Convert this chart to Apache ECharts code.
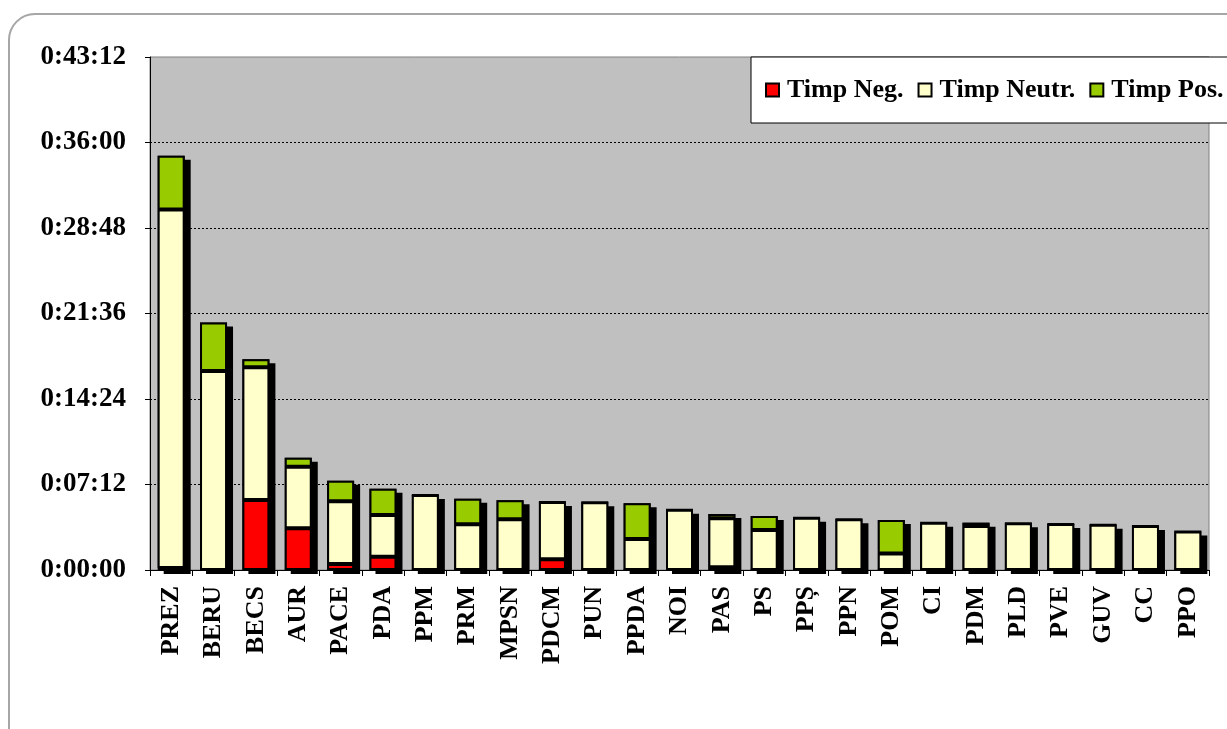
<!DOCTYPE html>
<html>
<head>
<meta charset="utf-8">
<script src="https://cdn.jsdelivr.net/npm/echarts@6/dist/echarts.min.js"></script>
<style>
html,body{margin:0;padding:0;background:#fff;}
#chart{width:1227px;height:729px;}
</style>
</head>
<body>
<div id="chart"></div>
<script>
// Categories (parties / speakers)
const categories = ['PREZ','BERU','BECS','AUR','PACE','PDA','PPM','PRM','MPSN','PDCM','PUN','PPDA','NOI','PAS','PS','PPȘ','PPN','POM','CI','PDM','PLD','PVE','GUV','CC','PPO'];
// Values in seconds
const timpNeg   = [10, 0, 354, 211, 30, 67, 0, 0, 0, 54, 0, 0, 0, 14, 0, 0, 0, 0, 0, 0, 0, 0, 0, 0, 0];
const timpNeutr = [1812, 1005, 670, 311, 317, 211, 379, 231, 256, 290, 342, 157, 305, 247, 202, 264, 256, 84, 239, 222, 236, 232, 229, 222, 194];
const timpPos   = [271, 245, 41, 45, 104, 133, 0, 129, 96, 0, 0, 180, 0, 22, 71, 0, 0, 169, 0, 17, 0, 0, 0, 0, 0];
// Axis ticks (seconds): 0:00:00 .. 0:43:12 every 0:07:12
const yMin = 0, yMax = 2592, yStep = 432;

const totals = categories.map((c, i) => timpNeg[i] + timpNeutr[i] + timpPos[i]);

function fmt(v) {
  const h = Math.floor(v / 3600);
  const m = Math.floor((v % 3600) / 60);
  const s = Math.round(v % 60);
  return h + ':' + String(m).padStart(2, '0') + ':' + String(s).padStart(2, '0');
}

const FONT = "'Liberation Serif', 'Times New Roman', serif";
const border = { borderColor: '#000', borderWidth: 2 };

const chart = echarts.init(document.getElementById('chart'));
chart.setOption({
  animation: false,
  backgroundColor: '#fff',
  graphic: [{
    type: 'rect',
    z: -10,
    shape: { x: 9, y: 14, width: 1260, height: 760, r: 26 },
    style: { fill: '#fff', stroke: '#a6a6a6', lineWidth: 2 }
  }],
  grid: {
    left: 150, right: 18, top: 57, bottom: 159,
    show: true, backgroundColor: '#c0c0c0', borderColor: '#808080', borderWidth: 1
  },
  legend: {
    data: ['Timp Neg.', 'Timp Neutr.', 'Timp Pos.'],
    left: 751, top: 57, width: 560,
    backgroundColor: '#fff', borderColor: '#000', borderWidth: 1,
    padding: [20, 30, 20, 14],
    itemGap: 14, itemWidth: 13, itemHeight: 13,
    icon: 'rect',
    itemStyle: { borderColor: '#000', borderWidth: 2 },
    textStyle: { fontFamily: FONT, fontWeight: 'bold', fontSize: 26, color: '#000', padding: [0, 0, 0, 3] }
  },
  xAxis: {
    type: 'category',
    data: categories,
    axisLine: { lineStyle: { color: '#000', width: 1 } },
    axisTick: { show: true, length: 6, lineStyle: { color: '#000' } },
    axisLabel: {
      rotate: 90, interval: 0, margin: 16,
      fontFamily: FONT, fontWeight: 'bold', fontSize: 26, color: '#000'
    }
  },
  yAxis: {
    type: 'value',
    min: yMin, max: yMax, interval: yStep,
    axisLine: { show: true, lineStyle: { color: '#000', width: 1 } },
    axisTick: { show: true, length: 5, lineStyle: { color: '#000' } },
    axisLabel: {
      formatter: fmt, margin: 24,
      fontFamily: FONT, fontWeight: 'bold', fontSize: 27, color: '#000'
    },
    splitLine: {
      show: true,
      lineStyle: { color: ['#000', '#000', '#000', '#000', '#000', '#000', 'rgba(0,0,0,0)'], type: [2, 2], width: 1 }
    }
  },
  series: [
    {
      name: 'shadow', type: 'bar', data: totals, z: 1,
      barWidth: 27, barGap: '-100%', silent: true,
      itemStyle: { color: '#000', borderColor: '#000', borderWidth: 2,
        shadowColor: '#000', shadowBlur: 0, shadowOffsetX: 6, shadowOffsetY: 4 }
    },
    {
      name: 'Timp Neg.', type: 'bar', stack: 'total', data: timpNeg, z: 2,
      barWidth: 27, barGap: '-100%',
      itemStyle: Object.assign({ color: '#ff0000' }, border)
    },
    {
      name: 'Timp Neutr.', type: 'bar', stack: 'total', data: timpNeutr, z: 2,
      barWidth: 27, barGap: '-100%',
      itemStyle: Object.assign({ color: '#ffffcc' }, border)
    },
    {
      name: 'Timp Pos.', type: 'bar', stack: 'total', data: timpPos, z: 2,
      barWidth: 27, barGap: '-100%',
      itemStyle: Object.assign({ color: '#99cc00' }, border)
    }
  ]
});
</script>
</body>
</html>
